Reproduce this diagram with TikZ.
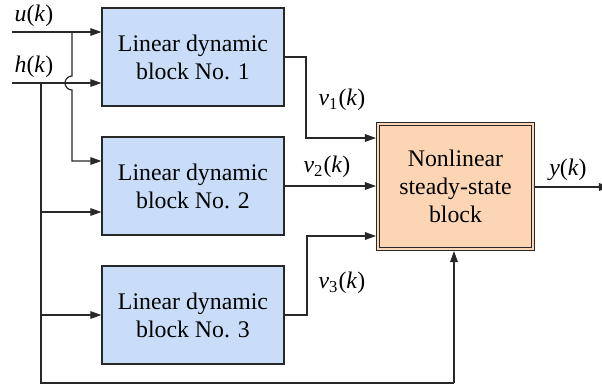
\documentclass[tikz,border=0pt]{standalone}
\usepackage{fontspec}
\setmainfont{Liberation Serif}
\usetikzlibrary{arrows.meta}
\definecolor{linblue}{RGB}{201,221,248}
\definecolor{nlorange}{RGB}{252,213,180}
\definecolor{ink}{RGB}{40,40,40}
\newcommand{\vk}[1]{\textit{v}\textsubscript{#1}(\textit{k})}
\begin{document}
\begin{tikzpicture}[x=0.5pt,y=-0.5pt,
  font=\fontsize{11.9}{14}\selectfont,
  wire/.style={draw=ink,line width=0.6pt},
  arr/.style={wire,-{Triangle[length=5.5pt,width=3.8pt]}},
  linblock/.style={draw=ink,line width=0.6pt,fill=linblue,minimum width=91pt,minimum height=49pt,align=center,inner sep=0pt},
  nlblock/.style={draw=ink,line width=0.5pt,double=nlorange,double distance=1pt,fill=nlorange,minimum width=77.5pt,minimum height=62.5pt,align=center,inner sep=0pt,outer sep=1pt},
  lab/.style={inner sep=0pt}]
\useasboundingbox (0,0) rectangle (602,387);
\node[linblock] (b1) at (193,57) {Linear dynamic\\block No. 1};
\node[linblock] (b2) at (193,186) {Linear dynamic\\block No. 2};
\node[linblock] (b3) at (193,315) {Linear dynamic\\block No. 3};
\node[nlblock] (nl) at (455.5,186.5) {Nonlinear\\steady-state\\block};
\coordinate (uin) at (12,32);
\coordinate (hin) at (12,83);
\coordinate (uj) at (72,32);
\coordinate (ua) at (72,76);
\coordinate (ub) at (72,90);
\coordinate (u2) at (72,161);
\coordinate (hj) at (41,83);
\coordinate (hb) at (41,383);
\coordinate (hr) at (454,383);
\coordinate (h2) at (41,212);
\coordinate (h3) at (41,315);
\coordinate (o1) at (306,57);
\coordinate (o1d) at (306,138);
\coordinate (o3) at (307,315);
\coordinate (o3u) at (307,236);
\coordinate (yout) at (610,187);
\coordinate (nlo) at (535,187);
% inputs
\draw[arr] (uin) -- (uin -| b1.west);
\draw[arr] (hin) -- (hin -| b1.west);
\draw[arr] (uj) -- (ua) arc[start angle=90,end angle=270,radius=3.5pt] -- (u2) -- (u2 -| b2.west);
\draw[wire] (hj) -- (hb) -- (hr);
\draw[arr] (hr) -- (nl.south -| hr);
\draw[arr] (h2) -- (h2 -| b2.west);
\draw[arr] (h3) -- (h3 -| b3.west);
% block outputs
\draw[arr] (o1 -| b1.east) -- (o1) -- (o1d) -- (o1d -| nl.west);
\draw[arr] (b2.east) -- (b2.east -| nl.west);
\draw[arr] (o3 -| b3.east) -- (o3) -- (o3u) -- (o3u -| nl.west);
\draw[arr] (nlo) -- (yout);
% labels
\node[lab] (lu) at (34,16) {\textit{u}(\textit{k})};
\node[lab] (lh) at (34,67) {\textit{h}(\textit{k})};
\node[lab] (lv1) at (342,100) {\vk{1}};
\node[lab] (lv2) at (327,167) {\vk{2}};
\node[lab] (lv3) at (342,283) {\vk{3}};
\node[lab] (ly) at (568,170) {\textit{y}(\textit{k})};
\end{tikzpicture}
\end{document}
